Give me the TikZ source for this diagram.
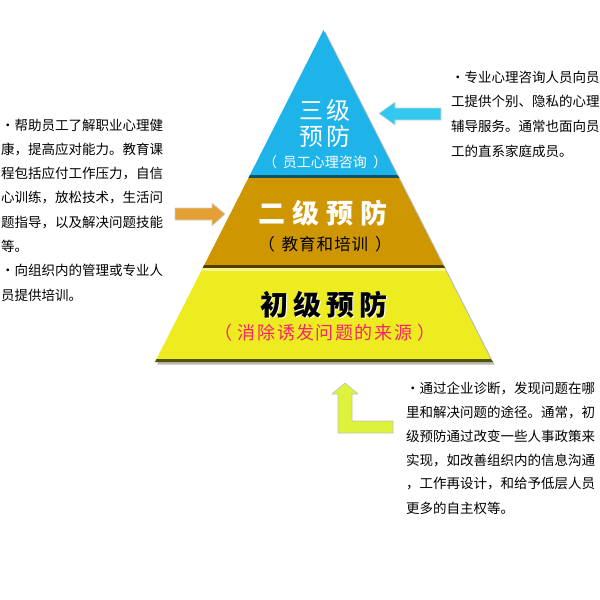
\documentclass[tikz,border=0pt]{standalone}
\usepackage{fontspec}
\newfontfamily\cjk{Noto Sans CJK SC}
\definecolor{tierblue}{RGB}{30,180,234}
\definecolor{tiergold}{RGB}{206,150,0}
\definecolor{tieryellow}{RGB}{236,236,32}
\definecolor{arrowblue}{RGB}{50,200,240}
\definecolor{arroworange}{RGB}{228,160,52}
\definecolor{arrowyellow}{RGB}{221,242,58}
\definecolor{pinktext}{RGB}{250,35,110}
\tikzset{
  body/.style={anchor=west, inner sep=0pt, text=black, font=\cjk\fontsize{13.5}{16}\selectfont},
  title/.style={inner sep=0pt, anchor=center},
  blockarrow/.style={draw=gray!35, line width=0.6pt, line join=round},
}
\begin{document}
\begin{tikzpicture}[x=1pt,y=-1pt]
\fill[white] (0,0) rectangle (600,600);
\useasboundingbox (0,0) rectangle (600,600);
% drop shadow of pyramid
\fill[gray!55] (325.5,32) -- (494.5,364.5) -- (157,364.5) -- cycle;
% top tier
\fill[tierblue] (323.5,30) -- (398.6,178) -- (248.4,178) -- cycle;
\fill[tierblue!45!black] (249.9,175) -- (397.1,175) -- (399.6,178) -- (248.4,178) -- cycle;
% middle tier
\fill[tiergold] (248.4,178) -- (398.6,178) -- (444.3,268) -- (202.7,268) -- cycle;
\fill[tiergold!40!black] (204.2,265) -- (442.8,265) -- (445.3,268) -- (202.7,268) -- cycle;
% bottom tier
\fill[tieryellow] (202.7,268) -- (444.3,268) -- (492,362) -- (155,362) -- cycle;
\fill[tieryellow!55!white] (202.7,268) -- (444.3,268) -- (445.8,271) -- (201.2,271) -- cycle;
\fill[tieryellow!35!black] (156.5,359) -- (490.5,359) -- (493,362) -- (155,362) -- cycle;
% tier texts
\node[title, text=white, font=\cjk\fontsize{24}{26}\selectfont] (t3a) at (325,110) {三\kern4pt级};
\node[title, text=white, font=\cjk\fontsize{24}{26}\selectfont] (t3b) at (325,136) {预\kern4pt防};
\node[title, text=white, font=\cjk\fontsize{14}{16}\selectfont] (t3c) at (325,162) {（\kern6pt员工心理咨询\kern6pt）};
\node[title, text=white, font=\cjk\bfseries\fontsize{27}{30}\selectfont] (t2a) at (323,213) {二\kern7pt级\kern7pt预\kern7pt防};
\node[title, text=black, font=\cjk\fontsize{16.5}{18}\selectfont] (t2b) at (325,244) {（\kern7pt教\kern1pt育\kern1pt和\kern1pt培\kern1pt训\kern7pt）};
\node[title, text=white, font=\cjk\bfseries\fontsize{28}{30}\selectfont] (t1s) at (325,306) {初\kern5pt级\kern5pt预\kern5pt防};
\node[title, text=black, font=\cjk\bfseries\fontsize{28}{30}\selectfont] (t1a) at (324,305) {初\kern5pt级\kern5pt预\kern5pt防};
\node[title, text=pinktext, font=\cjk\fontsize{18}{20}\selectfont] (t1b) at (325,333) {（\kern6pt消\kern1.5pt除\kern1.5pt诱\kern1.5pt发\kern1.5pt问\kern1.5pt题\kern1.5pt的\kern1.5pt来\kern1.5pt源\kern6pt）};
% block arrows
\filldraw[blockarrow, fill=arrowblue] (379,113.5) -- (395,102) -- (395,108) -- (441,108) -- (441,120) -- (395,120) -- (395,125) -- cycle;
\filldraw[blockarrow, fill=arroworange] (225,214) -- (212,203) -- (212,208) -- (175,208) -- (175,220) -- (212,220) -- (212,226) -- cycle;
\filldraw[blockarrow, fill=arrowyellow, draw=gray!50] (345,383) -- (358,394) -- (352,394) -- (352,421) -- (393,421) -- (393,433) -- (338,433) -- (338,394) -- (332,394) -- cycle;
% left text
\foreach \t [count=\i from 0] in {・帮助员工了解职业心理健,康，提高应对能力。教育课,程包括应付工作压力，自信,心训练，放松技术，生活问,题指导，以及解决问题技能,等。,・向组织内的管理或专业人,员提供培训。}
  \node[body] (left\i) at (1,{125+24.3*\i}) {\t};
% right text
\foreach \t [count=\i from 0] in {・专业心理咨询人员向员,工提供个别、隐私的心理,辅导服务。通常也面向员,工的直系家庭成员。}
  \node[body] (right\i) at (451,{77+24.7*\i}) {\t};
% bottom text
\foreach \t [count=\i from 0] in {・通过企业诊断，发现问题在哪,里和解决问题的途径。通常，初,级预防通过改变一些人事政策来,实现，如改善组织内的信息沟通,，工作再设计，和给予低层人员,更多的自主权等。}
  \node[body] (bottom\i) at (406,{388+24*\i}) {\t};
\end{tikzpicture}
\end{document}
